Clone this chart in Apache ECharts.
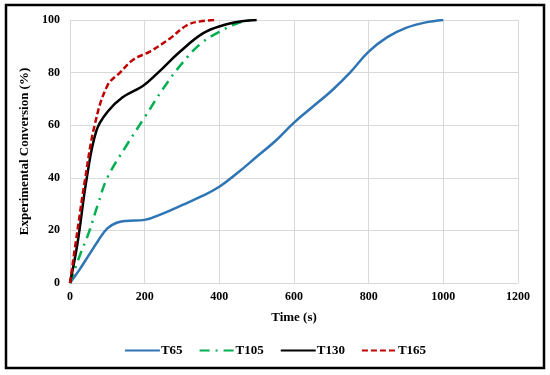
<!DOCTYPE html>
<html><head><meta charset="utf-8">
<script src="https://cdn.jsdelivr.net/npm/echarts@6/dist/echarts.min.js"></script>
<style>html,body{margin:0;padding:0;background:#fff}#c{width:550px;height:375px}</style>
</head><body><div id="c"></div>
<script>
var seriesNames = ['T65','T105','T130','T165'];
var xTicks = [0,200,400,600,800,1000,1200];
var yTicks = [0,20,40,60,80,100];
var T65 = [[0,0],[25,5],[50,10.5],[75,16],[100,20.8],[125,22.9],[150,23.6],[200,24],[250,26.5],[300,29.6],[350,32.8],[400,36.6],[450,42],[500,48],[550,54],[600,61],[650,67],[700,73],[750,80],[800,88],[850,93.5],[900,97],[950,99],[1000,100]];
var T105 = [[0,0],[25,10],[50,19],[75,30],[100,40],[150,52],[200,63],[250,74],[300,83.5],[350,91],[400,95.5],[450,98.8],[490,100]];
var T130 = [[0,0],[20,15],[45,40],[71,58],[100,65],[140,70.5],[196,75],[236,80],[295,88],[357,95],[410,98],[460,99.5],[500,100]];
var T165 = [[0,0],[20,20],[41,40],[66,60],[100,75],[134,80],[170,85],[214,88],[268,93],[313,98],[350,99.5],[393,100]];

var font = 'Liberation Serif';
var chart = echarts.init(document.getElementById('c'));
function mk(name, data, color, type){
  return {name:name, type:'line', data:data, smooth:0.4, symbol:'none',
    lineStyle:{color:color, width:2.5, type:type}, itemStyle:{color:color}};
}
chart.setOption({
  animation:false,
  grid:{left:70, right:32, top:20, bottom:92},
  graphic:[{type:'rect', shape:{x:6,y:5,width:538,height:363}, style:{fill:'none', stroke:'#000', lineWidth:2.5}, silent:true}],
  xAxis:{type:'value', min:0, max:1200, interval:200, name:'Time (s)', nameLocation:'middle', nameGap:28,
    nameTextStyle:{fontFamily:font, fontWeight:'bold', fontSize:13, color:'#000'},
    axisLine:{show:true, lineStyle:{color:'#d9d9d9'}}, axisTick:{show:false},
    axisLabel:{fontFamily:font, fontWeight:'bold', fontSize:12, color:'#000', margin:8, formatter:function(v){return String(v);}},
    splitLine:{show:true, lineStyle:{color:'#d9d9d9'}}},
  yAxis:{type:'value', min:0, max:100, interval:20, name:'Experimental Conversion (%)', nameLocation:'middle', nameGap:32, nameRotate:90,
    nameTextStyle:{fontFamily:font, fontWeight:'bold', fontSize:13, color:'#000'},
    axisLine:{show:true, lineStyle:{color:'#d9d9d9'}}, axisTick:{show:false},
    axisLabel:{fontFamily:font, fontWeight:'bold', fontSize:12, color:'#000', margin:10},
    splitLine:{show:true, lineStyle:{color:'#d9d9d9'}}},
  legend:{bottom:13, left:'center', itemWidth:35, itemHeight:10, itemGap:16,
    itemStyle:{opacity:0},
    textStyle:{fontFamily:font, fontWeight:'bold', fontSize:13, color:'#000', padding:[0,0,0,-4]},
    data:seriesNames},
  series:[
    mk(seriesNames[0], T65, '#2E75B6', 'solid'),
    mk(seriesNames[1], T105, '#00B050', [10,6,2,6]),
    mk(seriesNames[2], T130, '#000000', 'solid'),
    mk(seriesNames[3], T165, '#C00000', [6,3])
  ]
});
</script></body></html>
